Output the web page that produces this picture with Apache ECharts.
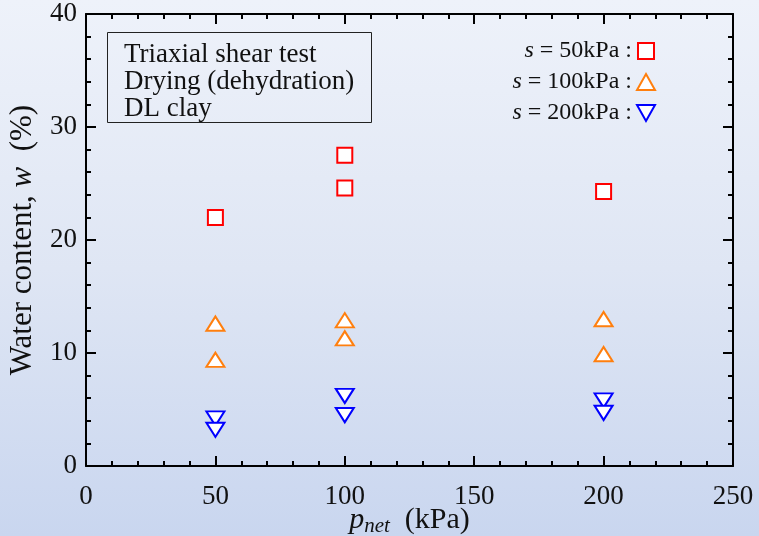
<!DOCTYPE html>
<html>
<head>
<meta charset="utf-8">
<script src="https://cdn.jsdelivr.net/npm/echarts@6/dist/echarts.min.js"></script>
<style>
  html, body { margin: 0; padding: 0; }
  body { width: 759px; height: 536px; background: linear-gradient(to bottom, #eef2fa 0%, #dfe6f4 50%, #c9d6ef 100%); }
  #chart { width: 759px; height: 536px; }
</style>
</head>
<body>
<div id="chart"></div>
<script>
// Net stress p_net (kPa) and water content w (%) at each suction level
const pnetS50 = [50, 100, 100, 200];
const wS50 = [22.0, 27.5, 24.6, 24.3];

const pnetS100 = [50, 50, 100, 100, 200, 200];
const wS100 = [12.6, 9.4, 12.9, 11.3, 13.0, 9.9];

const pnetS200 = [50, 50, 100, 100, 200, 200];
const wS200 = [4.2, 3.2, 6.2, 4.5, 5.8, 4.7];

const seriesNames = ['s = 50kPa', 's = 100kPa', 's = 200kPa'];
const xTicks = [0, 50, 100, 150, 200, 250];
const yTicks = [0, 10, 20, 30, 40];
const noteLines = ['Triaxial shear test', 'Drying (dehydration)', 'DL clay'];

const FONT = '"Liberation Serif", "Times New Roman", serif';
const SQUARE = 'path://M0,0H16V16H0Z';
const UP = 'path://M9,0L18,16L0,16Z';
const DOWN = 'path://M0,0L18,0L9,16Z';

function pairs(xs, ys) { return xs.map((x, i) => [x, ys[i]]); }

const chart = echarts.init(document.getElementById('chart'), null, { renderer: 'canvas' });

const axisLine = { show: true, onZero: false, lineStyle: { color: '#000', width: 2 } };
const majorTick = { show: true, inside: true, length: 10, lineStyle: { color: '#000', width: 2 } };
const minorTick = { show: true, splitNumber: 5, length: 5, lineStyle: { color: '#000', width: 2 } };

function mirrorAxis(base, pos) {
  return Object.assign({}, base, {
    position: pos,
    name: '',
    axisLabel: { show: false }
  });
}

const xBase = {
  type: 'value', min: xTicks[0], max: xTicks[xTicks.length - 1], interval: 50,
  axisLine, axisTick: majorTick, minorTick, splitLine: { show: false },
  axisLabel: { color: '#111', fontFamily: FONT, fontSize: 27, margin: 17 }
};
const yBase = {
  type: 'value', min: yTicks[0], max: yTicks[yTicks.length - 1], interval: 10,
  axisLine, axisTick: majorTick, minorTick, splitLine: { show: false },
  axisLabel: { color: '#111', fontFamily: FONT, fontSize: 27, margin: 9 }
};

function seriesItem(name, data, symbol, color) {
  return {
    name, type: 'scatter', data, symbol, symbolKeepAspect: true,
    symbolSize: symbol === SQUARE ? [15, 15] : [18, 16],
    itemStyle: { color: '#fff', borderColor: color, borderWidth: 2, opacity: 1 },
    emphasis: { disabled: true },
    z: 5
  };
}

const option = {
  backgroundColor: 'transparent',
  animation: false,
  textStyle: { fontFamily: FONT },
  grid: { left: 86, right: 26, top: 14, bottom: 70, containLabel: false, outerBoundsMode: 'none' },
  xAxis: [
    Object.assign({}, xBase, {
      position: 'bottom',
      name: '{it|p}{sub|net}  (kPa)',
      nameLocation: 'middle', nameGap: 38, nameMoveOverlap: false,
      nameTextStyle: {
        color: '#111', fontFamily: FONT, fontSize: 30,
        rich: {
          it: { fontFamily: FONT, fontSize: 30, fontStyle: 'italic', color: '#111' },
          sub: { fontFamily: FONT, fontSize: 21, fontStyle: 'italic', color: '#111', verticalAlign: 'bottom', padding: [12, 0, 0, 0] }
        }
      }
    }),
    mirrorAxis(xBase, 'top')
  ],
  yAxis: [
    Object.assign({}, yBase, {
      position: 'left',
      name: 'Water content, {it|w}  (%)',
      nameLocation: 'middle', nameGap: 48,
      nameTextStyle: {
        color: '#111', fontFamily: FONT, fontSize: 31,
        rich: { it: { fontFamily: FONT, fontSize: 31, fontStyle: 'italic', color: '#111' } }
      }
    }),
    mirrorAxis(yBase, 'right')
  ],
  legend: {
    orient: 'vertical', right: 98, top: 34, align: 'right',
    itemWidth: 18, itemHeight: 16, itemGap: 7,
    selectedMode: false,
    formatter: n => '{i|s}{t|' + n.slice(1) + ' :}',
    textStyle: {
      color: '#111', fontFamily: FONT, fontSize: 24,
      rich: {
        i: { fontFamily: FONT, fontSize: 24, fontStyle: 'italic', color: '#111' },
        t: { fontFamily: FONT, fontSize: 24, color: '#111' }
      }
    },
    data: [
      { name: seriesNames[0], icon: SQUARE, itemStyle: { color: '#fff', borderColor: '#ff0000', borderWidth: 2 } },
      { name: seriesNames[1], icon: UP, itemStyle: { color: '#fff', borderColor: '#ff7f0e', borderWidth: 2 } },
      { name: seriesNames[2], icon: DOWN, itemStyle: { color: '#fff', borderColor: '#0000ff', borderWidth: 2 } }
    ]
  },
  graphic: [
    {
      type: 'rect', left: 107, top: 32,
      shape: { width: 264, height: 90 },
      style: { fill: 'transparent', stroke: '#222', lineWidth: 1 }, z: 10
    }
  ].concat(noteLines.map((t, i) => ({
    type: 'text', left: 124, top: 41 + i * 27,
    style: { text: t, fontFamily: FONT, fontSize: 27, fill: '#111' }, z: 10
  }))),
  series: [
    seriesItem(seriesNames[0], pairs(pnetS50, wS50), SQUARE, '#ff0000'),
    seriesItem(seriesNames[1], pairs(pnetS100, wS100), UP, '#ff7f0e'),
    seriesItem(seriesNames[2], pairs(pnetS200, wS200), DOWN, '#0000ff')
  ]
};

chart.setOption(option);
</script>
</body>
</html>
